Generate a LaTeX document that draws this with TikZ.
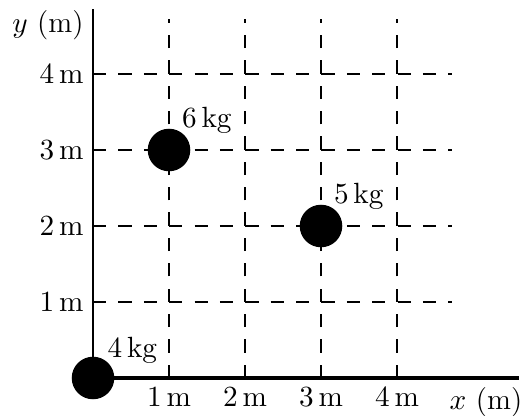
\documentclass[tikz,border=0pt]{standalone}
\usepackage{amsmath}
\usepackage{tikz}

\begin{document}
\begin{tikzpicture}[
  every node/.style={font=\fontsize{11}{13}\selectfont},
  grid/.style={dash pattern=on 5pt off 4.5pt, line width=1pt},
  axis/.style={line width=1.3pt},
  mass/.style={circle, fill=black, inner sep=0pt, minimum size=0.56cm}
]
\useasboundingbox (-1.224, -0.487) rectangle (5.645, 4.974);

% dashed grid
\foreach \k in {1,...,4} {
  \draw[grid] (0,\k) -- (4.72,\k);
  \draw[grid] (\k,0) -- (\k,4.72);
}

% axes
\coordinate (O) at (0,0);
\coordinate (xend) at (5.6,0);
\coordinate (yend) at (0,4.86);
\draw[axis] (O) -- (xend);
\draw[line width=1pt] (O) -- (yend);

\foreach \k in {1,...,4} {
  \node[below] (xt\k) at (\k,0) {$\k\,\mathrm{m}$};
  \node[left] (yt\k) at (0,\k) {$\k\,\mathrm{m}$};
}
\node[below] (xlab) at (5.17,0) {$x$ (m)};
\node[left] (ylab) at (0,4.64) {$y$ (m)};

% masses
\node[mass] (m4) at (0,0) {};
\node[mass] (m6) at (1,3) {};
\node[mass] (m5) at (3,2) {};
\node (l4) at (0.52,0.37) {$4\,\mathrm{kg}$};
\node (l6) at (1.5,3.39) {$6\,\mathrm{kg}$};
\node (l5) at (3.5,2.39) {$5\,\mathrm{kg}$};
\end{tikzpicture}
\end{document}
